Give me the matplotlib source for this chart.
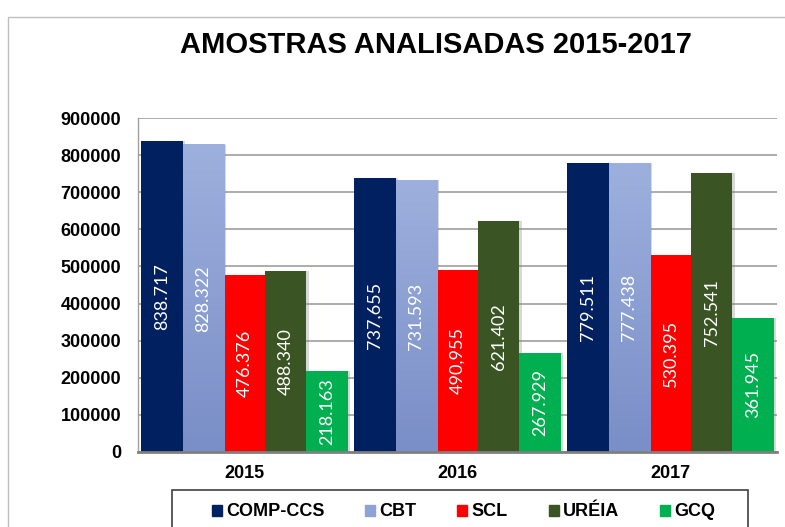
import numpy as np
import matplotlib
matplotlib.use('Agg')
import matplotlib.pyplot as plt
from matplotlib.patches import Rectangle, Patch
from matplotlib.colors import LinearSegmentedColormap

years = ['2015', '2016', '2017']
series = ['COMP-CCS', 'CBT', 'SCL', 'URÉIA', 'GCQ']
comp_ccs = [838717, 737655, 779511]
cbt = [828322, 731593, 777438]
scl = [476376, 490955, 530395]
ureia = [488340, 621402, 752541]
gcq = [218163, 267929, 361945]
values = [comp_ccs, cbt, scl, ureia, gcq]
# labels exactly as printed in the chart (mixed separators)
labels = [['838.717', '737,655', '779.511'],
          ['828.322', '731.593', '777.438'],
          ['476.376', '490,955', '530.395'],
          ['488.340', '621.402', '752.541'],
          ['218.163', '267.929', '361.945']]
colors = ['#002060', '#8EA2D5', '#FF0000', '#3A5424', '#00B050']

W, H = 785, 527
fig = plt.figure(figsize=(W / 100, H / 100), dpi=100)
ax = fig.add_axes([138 / W, 1 - 452 / H, 639 / W, 334 / H])

x = np.arange(len(years))
bw = 0.194
cbt_cmap = LinearSegmentedColormap.from_list('cbt', ['#9DB0DD', '#7A8EC7'])

for i, (vals, col) in enumerate(zip(values, colors)):
    pos = x + (i - 2) * bw
    # soft shadow on the right side
    ax.bar(pos + 0.010, vals, bw, color='#808080', alpha=0.3, zorder=2,
           linewidth=0)
    bars = ax.bar(pos, vals, bw, color=col, zorder=3, linewidth=0)
    if series[i] == 'CBT':
        for b in bars:
            grad = np.linspace(0, 1, 256).reshape(-1, 1)
            ax.imshow(grad, cmap=cbt_cmap, aspect='auto', zorder=3.5,
                      extent=[b.get_x(), b.get_x() + b.get_width(),
                              0, b.get_height()], origin='upper')
    for p, v, t in zip(pos, vals, labels[i]):
        ax.text(p, v / 2, t, rotation=90, ha='center', va='center',
                color='white', fontsize=13, family='Lato', zorder=5)

ax.set_xlim(-0.5, 2.5)
ax.set_ylim(0, 900000)
ax.set_yticks(np.arange(0, 900001, 100000))
ax.set_yticklabels([str(v) for v in range(0, 900001, 100000)])
ax.set_xticks(x)
ax.set_xticklabels(years)
for lab in ax.get_xticklabels() + ax.get_yticklabels():
    lab.set_fontfamily('Liberation Sans')
    lab.set_fontweight('bold')
    lab.set_fontsize(13)
ax.tick_params(axis='y', length=0, pad=12)
ax.tick_params(axis='x', length=0, pad=9)
ax.yaxis.grid(True, color='#A6A6A6', linewidth=1.3, zorder=0)
ax.set_axisbelow(True)
for s in ['top', 'right']:
    ax.spines[s].set_visible(False)
ax.spines['left'].set_color('#A0A0A0')
ax.spines['left'].set_linewidth(1.0)
ax.spines['bottom'].set_color('#808080')
ax.spines['bottom'].set_linewidth(2.0)
ax.spines['bottom'].set_zorder(6)

fig.text(435.5 / W, 1 - 45 / H, 'AMOSTRAS ANALISADAS 2015-2017',
         ha='center', va='center', fontsize=21, fontweight='bold',
         family='Liberation Sans')

# chart area border (cut by the image edges)
fig.add_artist(Rectangle((7.5 / W, -30 / H), 820 / W, (H - 17 + 30) / H,
                         transform=fig.transFigure, fill=False,
                         edgecolor='#BFBFBF', linewidth=1.0))

# legend
handles = [Patch(color=c) for c in colors]
leg = fig.legend(handles, series, loc='center', ncol=5, frameon=False,
                 bbox_to_anchor=(463.5 / W, 1 - 512 / H),
                 prop={'family': 'Liberation Sans', 'weight': 'bold',
                       'size': 13},
                 handlelength=0.55, handleheight=0.55, handletextpad=0.25,
                 columnspacing=2.25)
fig.add_artist(Rectangle((172 / W, -20 / H), 576 / W, (H - 490 + 20) / H,
                         transform=fig.transFigure, fill=False,
                         edgecolor='#404040', linewidth=1.2))

fig.savefig('out.png', dpi=100)
